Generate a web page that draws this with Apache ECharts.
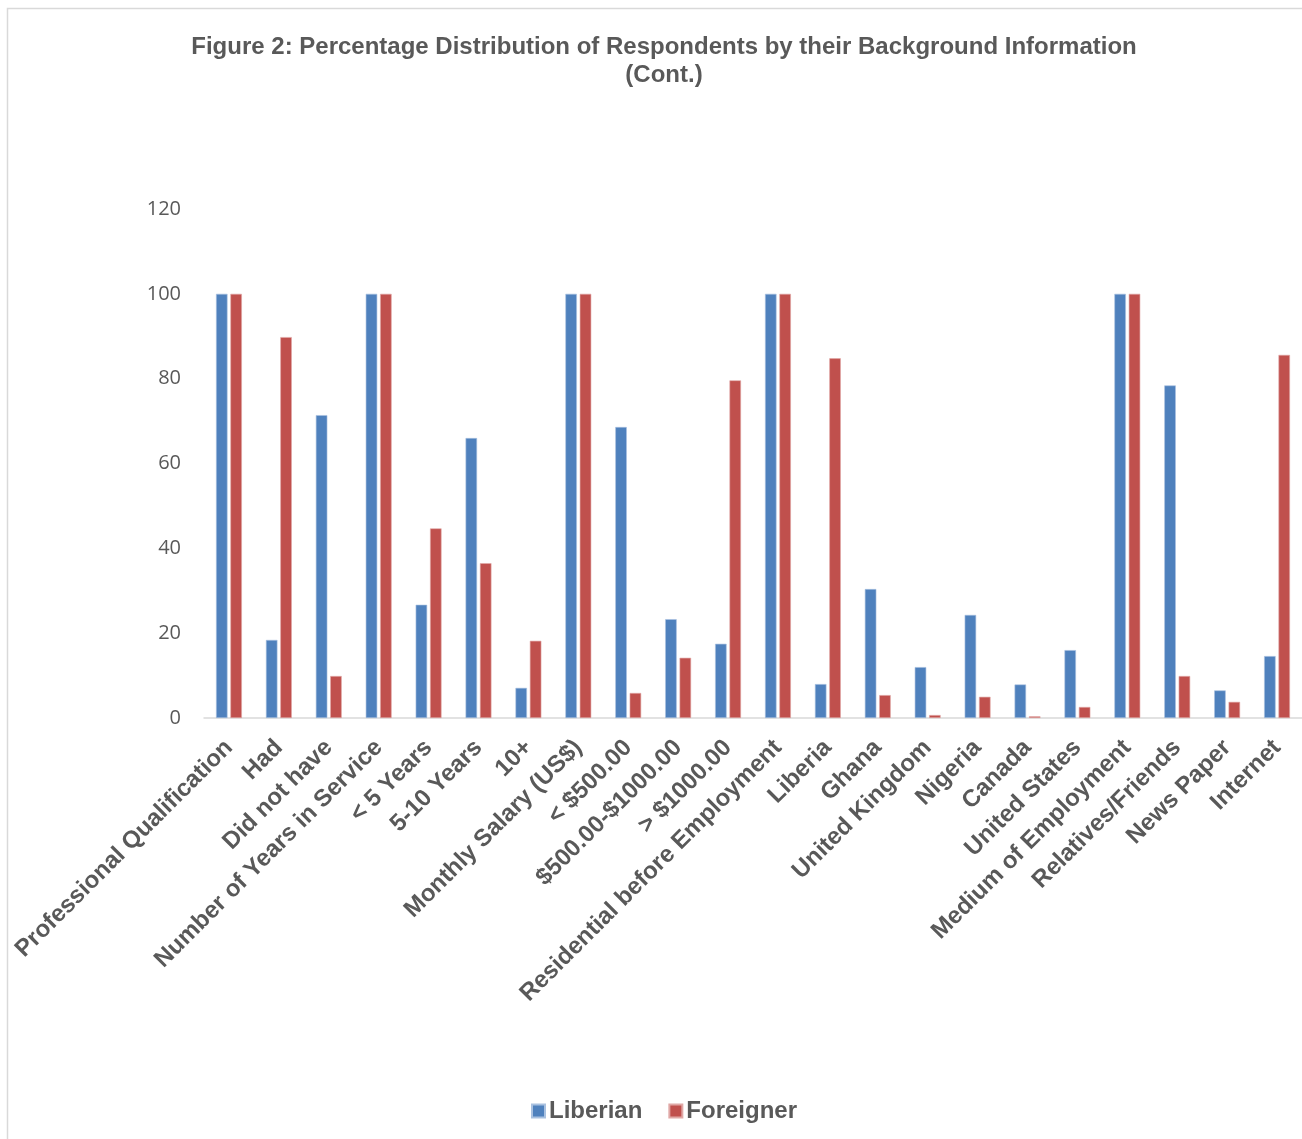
<!DOCTYPE html>
<html>
<head>
<meta charset="utf-8">
<title>Figure 2</title>
<script src="https://cdn.jsdelivr.net/npm/echarts@6/dist/echarts.min.js"></script>
<style>
  html, body { margin: 0; padding: 0; background: #fff; }
  #chart { width: 1302px; height: 1139px; }
</style>
</head>
<body>
<div id="chart"></div>
<script>
// categories along the x axis
const categories = [
  'Professional Qualification', 'Had', 'Did not have', 'Number of Years in Service',
  '< 5 Years', '5-10 Years', '10+', 'Monthly Salary (US$)', '< $500.00',
  '$500.00-$1000.00', '> $1000.00', 'Residential before Employment', 'Liberia',
  'Ghana', 'United Kingdom', 'Nigeria', 'Canada', 'United States',
  'Medium of Employment', 'Relatives/Friends', 'News Paper', 'Internet'
]
// percent values
const liberian = [100, 18.4, 71.4, 100, 26.7, 66.0, 7.1, 100, 68.6, 23.3, 17.5, 100, 8.0, 30.4, 12.0, 24.3, 7.9, 16.0, 100, 78.4, 6.5, 14.6]
const foreigner = [100, 89.8, 9.9, 100, 44.7, 36.5, 18.2, 100, 5.9, 14.2, 79.6, 100, 84.8, 5.4, 0.7, 5.0, 0.4, 2.6, 100, 9.9, 3.8, 85.6]
const yTicks = [0, 20, 40, 60, 80, 100, 120]

const textColor = '#595959'
let myChart = echarts.init(document.getElementById('chart'))

myChart.setOption({
  backgroundColor: '#fff',
  animation: false,
  title: {
    text: 'Figure 2: Percentage Distribution of Respondents by their Background Information\n(Cont.)',
    left: 659,
    textAlign: 'center',
    top: 28,
    textStyle: {
      fontFamily: 'Liberation Sans, Arial, sans-serif',
      fontWeight: 'bold',
      fontSize: 24,
      lineHeight: 28,
      color: textColor
    }
  },
  // thin frame round the chart area
  graphic: [{
    type: 'rect',
    shape: { x: 7.5, y: 8.5, width: 1400, height: 1200 },
    style: { fill: 'none', stroke: '#d9d9d9', lineWidth: 1.5 },
    silent: true
  }],
  legend: {
    data: ['Liberian', 'Foreigner'],
    left: 526,
    top: 1094,
    itemWidth: 13,
    itemHeight: 13,
    itemGap: 26,
    icon: 'rect',
    textStyle: {
      fontFamily: 'Liberation Sans, Arial, sans-serif',
      fontWeight: 'bold',
      fontSize: 24,
      color: textColor,
      padding: [0, 0, 0, -1]
    }
  },
  grid: {
    left: 204,
    top: 209,
    width: 1100,
    height: 509,
    containLabel: false
  },
  xAxis: {
    type: 'category',
    data: categories,
    axisLine: { show: true, lineStyle: { color: '#d9d9d9', width: 1.5 } },
    axisTick: { show: false },
    axisLabel: {
      interval: 0,
      rotate: 45,
      margin: 26,
      fontFamily: 'Liberation Sans, Arial, sans-serif',
      fontWeight: 'bold',
      fontSize: 24,
      color: textColor
    }
  },
  yAxis: {
    type: 'value',
    min: yTicks[0],
    max: yTicks[yTicks.length - 1],
    interval: 20,
    axisLine: { show: false },
    axisTick: { show: false },
    splitLine: { show: false },
    axisLabel: {
      margin: 23,
      fontFamily: 'Open Sans, sans-serif',
      fontSize: 20,
      color: textColor
    }
  },
  series: [
    {
      name: 'Liberian',
      type: 'bar',
      data: liberian,
      barWidth: 11.5,
      barGap: '25%',
      itemStyle: { color: '#4F81BD', borderColor: '#a9c1e0', borderWidth: 0.6 }
    },
    {
      name: 'Foreigner',
      type: 'bar',
      data: foreigner,
      barWidth: 11.5,
      itemStyle: { color: '#C0504D', borderColor: '#e0a8a6', borderWidth: 0.6 }
    }
  ]
})
</script>
</body>
</html>
